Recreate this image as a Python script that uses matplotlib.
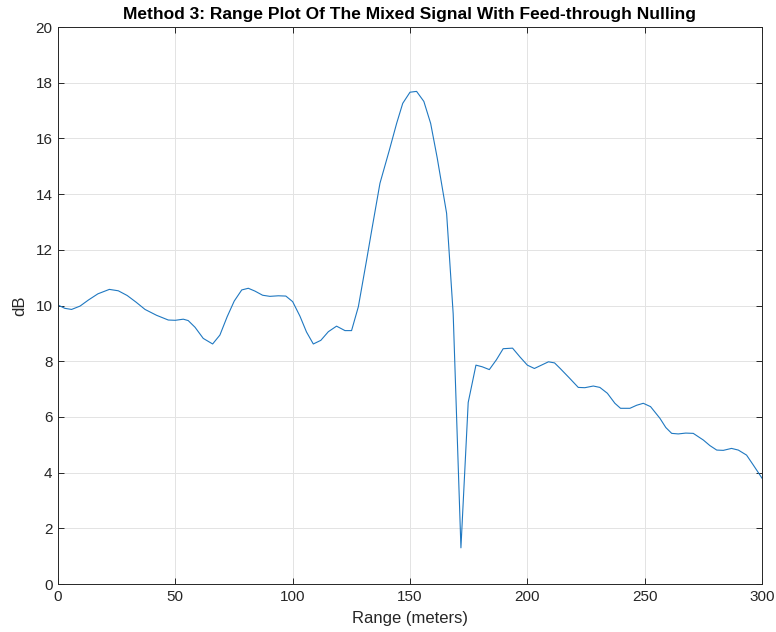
import numpy as np
import matplotlib.pyplot as plt

plt.rcParams['font.family'] = ['Liberation Sans', 'DejaVu Sans']

# range bins (m) and magnitude (dB) after feed-through nulling
range_m = [0.0, 2.9, 5.8, 9.4, 13.0, 17.0, 21.9, 25.7, 29.5, 33.3, 37.1, 42.0,
           47.0, 50.0, 53.4, 55.5, 58.4, 61.9, 65.9, 69.0, 72.1, 75.1, 78.3,
           81.1, 83.9, 87.2, 90.3, 93.9, 97.1, 100.0, 103.1, 105.9, 108.8,
           112.0, 115.2, 118.7, 122.3, 125.1, 128.0, 131.5, 133.7, 137.2,
           141.2, 144.3, 146.9, 150.0, 152.8, 155.9, 158.8, 161.6, 165.6,
           168.4, 171.7, 174.8, 178.1, 180.8, 183.8, 186.8, 189.7, 193.7,
           196.9, 200.0, 203.0, 206.0, 209.0, 211.6, 214.0, 217.9, 221.7,
           224.5, 228.1, 230.9, 234.1, 237.3, 239.7, 243.7, 246.6, 249.4,
           252.5, 256.5, 259.0, 261.5, 264.3, 267.5, 270.7, 275.0, 277.8,
           280.7, 283.5, 287.0, 289.9, 293.4, 296.3, 300.0]
level_db = [10.02, 9.90, 9.86, 9.98, 10.20, 10.42, 10.58, 10.53, 10.36, 10.12,
            9.86, 9.65, 9.48, 9.47, 9.51, 9.46, 9.22, 8.82, 8.62, 8.94, 9.60,
            10.16, 10.56, 10.62, 10.52, 10.37, 10.33, 10.35, 10.34, 10.14, 9.62,
            9.05, 8.62, 8.75, 9.06, 9.26, 9.10, 9.10, 9.96, 11.63, 12.71, 14.39,
            15.58, 16.54, 17.26, 17.66, 17.69, 17.33, 16.54, 15.30, 13.31, 9.70,
            1.30, 6.52, 7.86, 7.80, 7.70, 8.05, 8.45, 8.47, 8.15, 7.86, 7.74,
            7.86, 7.98, 7.94, 7.74, 7.40, 7.06, 7.05, 7.11, 7.06, 6.85, 6.49,
            6.31, 6.31, 6.42, 6.49, 6.37, 5.95, 5.62, 5.41, 5.39, 5.42, 5.41,
            5.17, 4.97, 4.81, 4.80, 4.87, 4.81, 4.63, 4.27, 3.80]

fig = plt.figure(figsize=(7.76, 6.32), dpi=100)
ax = fig.add_axes([0.0747, 0.0759, 0.9073, 0.8813])

ax.plot(range_m, level_db, color='#1f78c1', linewidth=0.8)

ax.set_xlim(0, 300)
ax.set_ylim(0, 20)
ax.set_xticks(np.arange(0, 301, 50))
ax.set_yticks(np.arange(0, 21, 2))
ax.grid(True, color='#e3e3e3', linewidth=0.7)
ax.set_axisbelow(True)

for s in ax.spines.values():
    s.set_color('#262626')
    s.set_linewidth(0.7)
ax.tick_params(direction='in', length=4, width=0.7, colors='#262626',
               labelsize=11, top=True, right=True, pad=4)

ax.set_xlabel('Range (meters)', fontsize=12, color='#262626', labelpad=5)
ax.set_ylabel('dB', fontsize=12, color='#262626', labelpad=6)
ax.set_title('Method 3: Range Plot Of The Mixed Signal With Feed-through Nulling',
             fontsize=12.5, fontweight='bold', pad=6)

fig.savefig('out.png', dpi=100)
